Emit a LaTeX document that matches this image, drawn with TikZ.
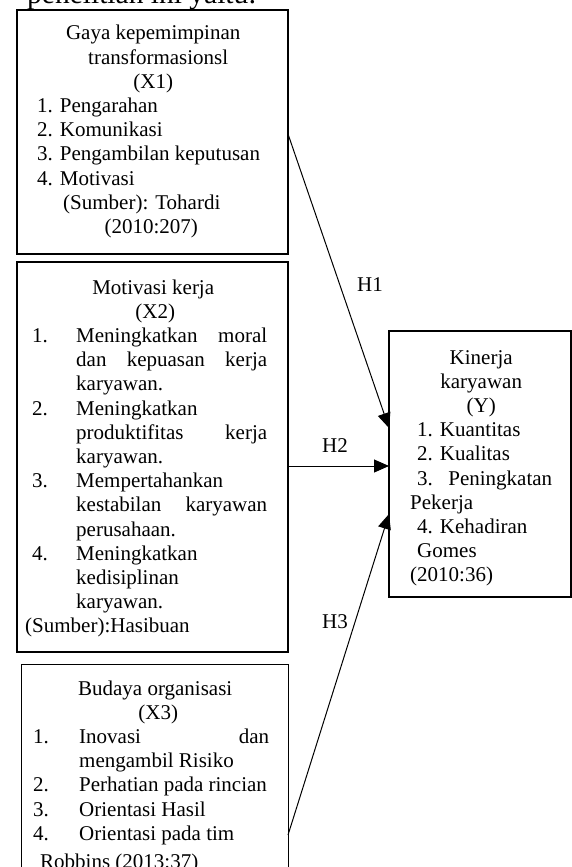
\documentclass[tikz,border=0pt]{standalone}
\usepackage{fontspec}
\setmainfont{Liberation Serif}
\usetikzlibrary{arrows.meta}
\newlength\bw
\newlength\numoff
\newlength\numw
\newcommand\Lcen[2][0pt]{\hbox to \bw{\hfil\kern#1#2\hfil}}
\newcommand\Llft[1]{\hbox to \bw{#1\hfil}}
\newcommand\Ljus[1]{\hbox to \bw{#1}}
\newcommand\Litem[2]{\hbox to \bw{\kern\numoff\hbox to \numw{#1\hfil}#2}}
\newcommand\Lcont[1]{\hbox to \bw{\kern\numoff\kern\numw#1}}
\begin{document}
\begin{tikzpicture}[x=1pt,y=-1pt,
  box/.style={draw, line width=2pt, inner sep=0pt, outer sep=0pt, anchor=north west},
  txt/.style={anchor=base west, inner sep=0pt, font=\fontsize{21}{24.2}\selectfont},
  arr/.style={-{Triangle[length=15pt,width=13pt]}, line width=1pt},
  lab/.style={font=\fontsize{21}{24.2}\selectfont, inner sep=0pt}]
\useasboundingbox (0,0) rectangle (572,867);

% cut-off line above the diagram
\node[anchor=base west, inner sep=0pt, font=\fontsize{29.5}{31}\selectfont] (top) at (27,4) {penelitian ini yaitu:};

% boxes
\node[box, minimum width=271pt, minimum height=244pt] (b1) at (17,10) {};
\node[box, minimum width=271pt, minimum height=390pt] (b2) at (17,262) {};
\node[box, line width=1pt, minimum width=267pt, minimum height=236pt] (b3) at (21,664) {};
\node[box, minimum width=182pt, minimum height=266pt] (bY) at (389,331) {};

% box texts
\node[txt] (t1) at (37,40) {\setlength\bw{232pt}\vtop{%
  \Lcen{Gaya kepemimpinan}
  \Lcen[10pt]{transformasionsl}
  \Lcen{(X1)}
  \Llft{1. Pengarahan}
  \Llft{2. Komunikasi}
  \Llft{3. Pengambilan keputusan}
  \Llft{4. Motivasi}
  \Llft{\kern26pt(Sumber): Tohardi}
  \Lcen[-4pt]{(2010:207)}}};

\node[txt] (t2) at (25,294) {\setlength\bw{242pt}\setlength\numoff{7pt}\setlength\numw{44pt}\vtop{%
  \Lcen[14pt]{Motivasi kerja}
  \Lcen[18pt]{(X2)}
  \Litem{1.}{Meningkatkan\hfill moral}
  \Lcont{dan\hfill kepuasan\hfill kerja}
  \Lcont{karyawan.\hfill}
  \Litem{2.}{Meningkatkan\hfill}
  \Lcont{produktifitas\hfill kerja}
  \Lcont{karyawan.\hfill}
  \Litem{3.}{Mempertahankan\hfill}
  \Lcont{kestabilan\hfill karyawan}
  \Lcont{perusahaan.\hfill}
  \Litem{4.}{Meningkatkan\hfill}
  \Lcont{kedisiplinan\hfill}
  \Lcont{karyawan.\hfill}
  \Llft{(Sumber):Hasibuan}}};

\node[txt] (t3) at (33,695) {\setlength\bw{236pt}\setlength\numoff{0pt}\setlength\numw{46pt}\vtop{%
  \Lcen[8pt]{Budaya organisasi}
  \Lcen[14pt]{(X3)}
  \Litem{1.}{Inovasi\hfill dan}
  \Lcont{mengambil Risiko\hfill}
  \Litem{2.}{Perhatian pada rincian\hfill}
  \Litem{3.}{Orientasi Hasil\hfill}
  \Litem{4.}{Orientasi pada tim\hfill}
  \vskip4pt
  \Llft{\kern7pt Robbins (2013:37)}}};

\node[txt] (tY) at (410,364) {\setlength\bw{142pt}\vtop{%
  \Lcen{Kinerja}
  \Lcen{karyawan}
  \Lcen{(Y)}
  \Llft{\kern7pt 1. Kuantitas}
  \Llft{\kern7pt 2. Kualitas}
  \Ljus{\kern7pt 3.\hfill Peningkatan}
  \Llft{Pekerja}
  \Llft{\kern7pt 4. Kehadiran}
  \Llft{\kern7pt Gomes}
  \Llft{(2010:36)}}};

% connectors
\coordinate (h1e) at ([yshift=36pt]bY.west);
\coordinate (h2e) at ([yshift=-2pt]bY.west);
\coordinate (h3e) at ([yshift=-50pt]bY.west);
\draw[arr] ([yshift=-2pt]b1.east) -- (h1e);
\draw[arr] (b2.east |- h2e) -- (h2e);
\draw[arr] ([yshift=-53pt]b3.east) -- (h3e);

% labels
\node[lab] (H1) at (370,285) {H1};
\node[lab] (H2) at (335,446) {H2};
\node[lab] (H3) at (335,622) {H3};
\end{tikzpicture}
\end{document}
